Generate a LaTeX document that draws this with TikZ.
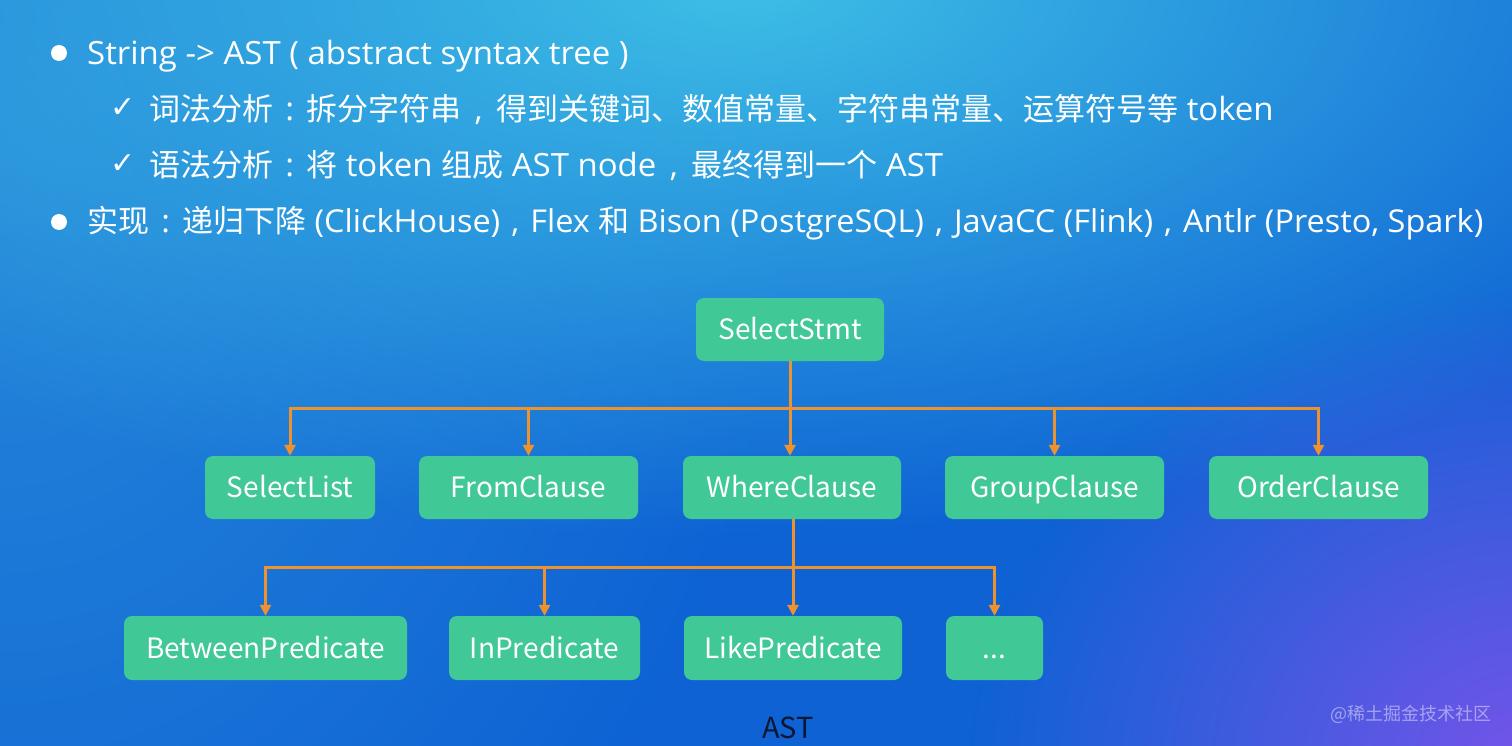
\documentclass[tikz,border=0pt]{standalone}
\usepackage{fontspec}
\setmainfont[FakeStretch=1.03]{Open Sans}
\newfontfamily\cjk{Noto Sans CJK SC}
\newfontfamily\symfont{DejaVu Sans}
\usetikzlibrary{arrows.meta,fadings}
\definecolor{bgbase}{RGB}{14,98,212}
\definecolor{bgcyan}{RGB}{62,192,230}
\definecolor{bgleft}{RGB}{38,136,218}
\definecolor{bgpurple}{RGB}{118,84,234}
\definecolor{nodegreen}{RGB}{64,200,150}
\definecolor{connorange}{RGB}{238,146,46}
\definecolor{astdark}{RGB}{14,22,52}
\newcommand{\zh}[1]{{\cjk\fontsize{31}{36}\selectfont #1}}
\newcommand{\fwcolon}{\makebox[33pt]{:}}
\newcommand{\fwcomma}{\makebox[35pt]{,}}
\newcommand{\fwcommal}{\makebox[30pt]{,}}
\tikzfading[name=softglow, inner color=transparent!0, outer color=transparent!100]
\begin{document}
\begin{tikzpicture}[x=1pt,y=-1pt,
  treenode/.style={fill=nodegreen, rounded corners=8pt, text=white,
    font=\cjk\fontsize{28}{32}\selectfont, inner sep=0pt, minimum height=63pt,
    text height=20.5pt, text depth=0pt},
  conn/.style={draw=connorange, line width=3pt},
  connarrow/.style={conn, -{Triangle[width=11pt,length=11pt]}},
  bulletline/.style={anchor=base west, text=white, font=\fontsize{32}{36}\selectfont, inner sep=0pt},
  bulletdot/.style={circle, fill=white, minimum size=16pt, inner sep=0pt},
  checkmark/.style={text=white, font=\symfont\fontsize{30}{34}\selectfont, inner sep=0pt},
]
\useasboundingbox (0,0) rectangle (1512,746);
% background
\begin{scope}
\clip (0,0) rectangle (1512,746);
\fill[bgbase] (0,0) rectangle (1512,746);
\fill[bgleft, path fading=softglow] (0,150) ellipse (800 and 1000);
\fill[bgcyan, path fading=softglow] (740,-20) ellipse (1150 and 560);
\fill[bgpurple, path fading=softglow] (1530,770) ellipse (560 and 480);
\end{scope}

% text
\node[bulletdot] (b1) at (59,53) {};
\node[bulletline] (t1) at (87,65) {String -> AST ( abstract syntax tree )};
\node[checkmark] (c1) at (123,108) {✓};
\node[bulletline] (t2) at (149,121) {\zh{词法分析}\fwcolon\zh{拆分字符串}\fwcomma\zh{得到关键词、数值常量、字符串常量、运算符号等} token};
\node[checkmark] (c2) at (123,164) {✓};
\node[bulletline] (t3) at (149,177) {\zh{语法分析}\fwcolon\zh{将} token \zh{组成} AST node\fwcomma\zh{最终得到一个} AST};
\node[bulletdot] (b2) at (59,222) {};
\node[bulletline, font=\fontsize{31.5}{36}\selectfont] (t4) at (87,233) {\zh{实现}\fwcolon\zh{递归下降} (ClickHouse)\fwcommal Flex \zh{和} Bison (PostgreSQL)\fwcommal JavaCC (Flink)\fwcommal Antlr (Presto, Spark)};

% tree
\node[treenode, minimum width=188pt] (ss) at (790,329.5) {SelectStmt};
\node[treenode, minimum width=170pt] (sl) at (290,487.5) {SelectList};
\node[treenode, minimum width=219pt] (fc) at (528.5,487.5) {FromClause};
\node[treenode, minimum width=218pt] (wc) at (792,487.5) {WhereClause};
\node[treenode, minimum width=219pt] (gc) at (1054.5,487.5) {GroupClause};
\node[treenode, minimum width=219pt] (oc) at (1318.5,487.5) {OrderClause};
\node[treenode, minimum width=283pt, minimum height=64pt] (bp) at (265.5,648) {BetweenPredicate};
\node[treenode, minimum width=191pt, minimum height=64pt] (ip) at (544.5,648) {InPredicate};
\node[treenode, minimum width=218pt, minimum height=64pt] (lp) at (793,648) {LikePredicate};
\node[treenode, minimum width=97pt, minimum height=64pt] (more) at (994.5,648) {...};

\coordinate (bus1) at (790,408);
\coordinate (bus2) at (793,567);
\foreach \c in {sl,fc,gc,oc}
  \draw[connarrow] (ss.south) -- (ss.south |- bus1) -| (\c.north);
\draw[connarrow] (ss.south) -- (ss.south |- wc.north);
\foreach \c in {bp,ip,more}
  \draw[connarrow] (wc.south -| bus2) -- (bus2) -| (\c.north);
\draw[connarrow] (wc.south -| bus2) -- (lp.north);

\node[text=astdark, font=\cjk\fontsize{29}{34}\selectfont, anchor=base, inner sep=0pt] (ast) at (788,738) {AST};
\node[text=white, opacity=0.45, font=\cjk\fontsize{18}{22}\selectfont, anchor=base west, inner sep=0pt] (wm) at (1330,720) {@稀土掘金技术社区};
\end{tikzpicture}
\end{document}
